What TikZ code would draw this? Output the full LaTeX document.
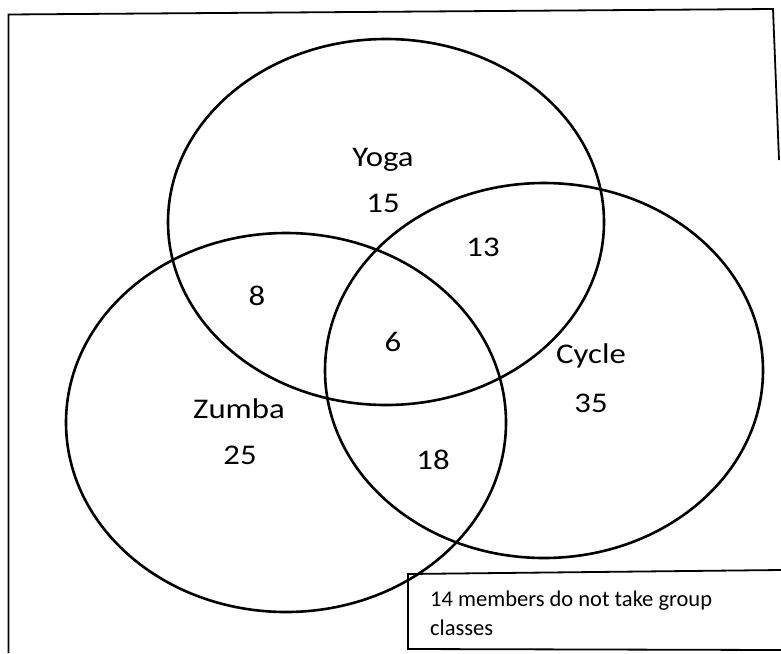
\documentclass[tikz,border=0pt]{standalone}
\usepackage{fontspec}
\usepackage{graphicx}
\setmainfont{Carlito}
\newcommand{\widetxt}[1]{\scalebox{1.15}[1]{#1}}
\begin{document}
\begin{tikzpicture}[x=1pt,y=-1pt,
  venn/.style={line width=2.6pt, black},
  frame/.style={line width=1.8pt, black},
  lbl/.style={font=\fontsize{28.5}{30}\selectfont, inner sep=0pt},
  note/.style={font=\fontsize{22.5}{28}\selectfont, inner sep=0pt, anchor=base west}]
\useasboundingbox (0,0) rectangle (781,653);
% outer frame
\coordinate (f1) at (8.5,653);
\coordinate (f2) at (8.5,14.5);
\coordinate (f3) at (773,9);
\coordinate (f4) at (779,160);
\draw[frame] (f1) -- (f2) -- (f3) -- (f4);
% circles
\draw[venn] (386,222) ellipse [x radius=218, y radius=183];
\draw[venn] (286,422.5) ellipse [x radius=220, y radius=189.5];
\draw[venn] (544,370.5) ellipse [x radius=219, y radius=187.5];
% labels
\node[lbl] (yoga) at (383,160) {\widetxt{Yoga}};
\node[lbl] (y15) at (383,203) {\widetxt{15}};
\node[lbl] (yz8) at (257,296) {\widetxt{8}};
\node[lbl] (zumba) at (239,409) {\widetxt{Zumba}};
\node[lbl] (z25) at (240,455) {\widetxt{25}};
\node[lbl] (yc13) at (483,247) {\widetxt{13}};
\node[lbl] (all6) at (393,342) {\widetxt{6}};
\node[lbl] (cycle) at (591,356) {\widetxt{Cycle}};
\node[lbl] (c35) at (591,403) {\widetxt{35}};
\node[lbl] (zc18) at (433,460) {\widetxt{18}};
% note box
\coordinate (b1) at (781,570);
\coordinate (b2) at (408,574);
\coordinate (b3) at (408,649);
\coordinate (b4) at (781,650);
\draw[frame] (b1) -- (b2) -- (b3) -- (b4);
\node[note] (n1) at (430,606) {14 members do not take group};
\node[note] (n2) at (430,635) {classes};
\end{tikzpicture}
\end{document}
